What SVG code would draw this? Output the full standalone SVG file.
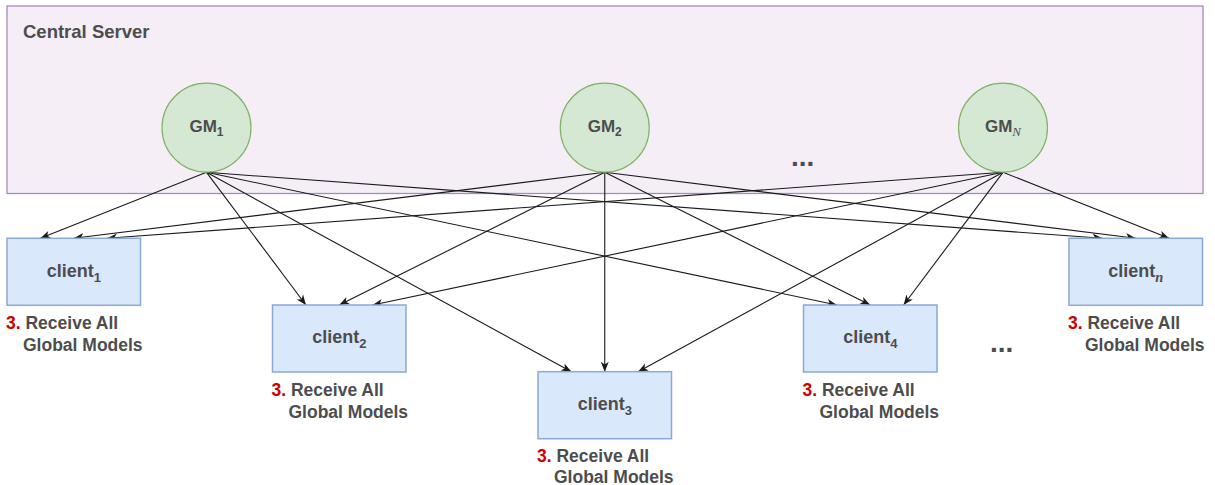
<svg xmlns="http://www.w3.org/2000/svg" width="1215" height="485" viewBox="0 0 1215 485">
  <style>
    .server { fill: #F5EEF6; stroke: #A68AB8; stroke-width: 1.3; }
    .gm { fill: #D5E8D4; stroke: #82B366; stroke-width: 1.2; }
    .client { fill: #DAE8FC; stroke: #8CA8D4; stroke-width: 1.5; }
    .edge { fill: none; stroke: #1A1A1A; stroke-width: 1.1; marker-end: url(#arrow); }
    text { font-family: "Liberation Sans", Arial, sans-serif; font-weight: bold; fill: #4D4D4D; }
    .title { font-size: 18.5px; }
    .gmtxt { font-size: 17px; }
    .ctxt { font-size: 18px; }
    .lbl { font-size: 17.5px; }
    .num { fill: #CC0000; }
    .ital { font-family: "Liberation Serif", "Times New Roman", serif; font-style: italic; font-weight: normal; }
    .ital.b { font-weight: bold; }
    .dots { font-size: 28px; }
  </style>
  <defs>
    <marker id="arrow" markerUnits="userSpaceOnUse" markerWidth="11" markerHeight="9" viewBox="0 0 11 9" refX="10.5" refY="4.5" orient="auto">
      <path d="M0.5,0.5 L10.5,4.5 L0.5,8.5 L3.2,4.5 Z" fill="#1A1A1A"/>
    </marker>
  </defs>

  <!-- server container -->
  <g id="central-server">
    <rect class="server" x="7" y="6" width="1196" height="187.5"/>
    <text class="title" x="23" y="38.3">Central Server</text>
    <text class="dots" x="791" y="166">...</text>
  </g>

  <!-- connectors: every global model goes to every client -->
  <g id="connectors">
    <!-- from GM1 -->
    <line class="edge" x1="206.5" y1="172.3" x2="40.4" y2="238.3"/>
    <line class="edge" x1="206.5" y1="172.3" x2="305.9" y2="305"/>
    <line class="edge" x1="206.5" y1="172.3" x2="571.4" y2="371.7"/>
    <line class="edge" x1="206.5" y1="172.3" x2="836.9" y2="305"/>
    <line class="edge" x1="206.5" y1="172.3" x2="1102.4" y2="238.3"/>
    <!-- from GM2 -->
    <line class="edge" x1="604.75" y1="172.3" x2="73.75" y2="238.3"/>
    <line class="edge" x1="604.75" y1="172.3" x2="339.25" y2="305"/>
    <line class="edge" x1="604.75" y1="172.3" x2="604.75" y2="371.7"/>
    <line class="edge" x1="604.75" y1="172.3" x2="870.25" y2="305"/>
    <line class="edge" x1="604.75" y1="172.3" x2="1135.75" y2="238.3"/>
    <!-- from GMN -->
    <line class="edge" x1="1003" y1="172.3" x2="107.1" y2="238.3"/>
    <line class="edge" x1="1003" y1="172.3" x2="372.6" y2="305"/>
    <line class="edge" x1="1003" y1="172.3" x2="638.1" y2="371.7"/>
    <line class="edge" x1="1003" y1="172.3" x2="903.6" y2="305"/>
    <line class="edge" x1="1003" y1="172.3" x2="1169.1" y2="238.3"/>
  </g>

  <!-- global models -->
  <g id="gm1">
    <circle class="gm" cx="206.5" cy="127.7" r="44.5"/>
    <text class="gmtxt" x="206.5" y="131.7" text-anchor="middle">GM<tspan font-size="12" dy="4.5">1</tspan></text>
  </g>
  <g id="gm2">
    <circle class="gm" cx="604.75" cy="127.7" r="44.5"/>
    <text class="gmtxt" x="604.75" y="131.7" text-anchor="middle">GM<tspan font-size="12" dy="4.5">2</tspan></text>
  </g>
  <g id="gmN">
    <circle class="gm" cx="1003" cy="127.7" r="44.5"/>
    <text class="gmtxt" x="1003" y="131.7" text-anchor="middle">GM<tspan class="ital" font-size="13" dy="4.5">N</tspan></text>
  </g>

  <!-- clients -->
  <g id="client1">
    <rect class="client" x="7" y="238.3" width="133.5" height="67"/>
    <text class="ctxt" x="73.75" y="276.7" text-anchor="middle">client<tspan font-size="13" dy="5">1</tspan></text>
    <text class="lbl" x="6" y="329"><tspan class="num">3.</tspan> Receive All</text>
    <text class="lbl" x="23" y="351">Global Models</text>
  </g>
  <g id="client2">
    <rect class="client" x="272.5" y="305" width="133.5" height="67"/>
    <text class="ctxt" x="339.25" y="343.4" text-anchor="middle">client<tspan font-size="13" dy="5">2</tspan></text>
    <text class="lbl" x="271.5" y="395.7"><tspan class="num">3.</tspan> Receive All</text>
    <text class="lbl" x="288.5" y="417.5">Global Models</text>
  </g>
  <g id="client3">
    <rect class="client" x="538" y="371.7" width="133.5" height="67"/>
    <text class="ctxt" x="604.75" y="410.1" text-anchor="middle">client<tspan font-size="13" dy="5">3</tspan></text>
    <text class="lbl" x="537" y="462"><tspan class="num">3.</tspan> Receive All</text>
    <text class="lbl" x="554" y="482.5">Global Models</text>
  </g>
  <g id="client4">
    <rect class="client" x="803.5" y="305" width="133.5" height="67"/>
    <text class="ctxt" x="870.25" y="343.4" text-anchor="middle">client<tspan font-size="13" dy="5">4</tspan></text>
    <text class="lbl" x="802.5" y="395.7"><tspan class="num">3.</tspan> Receive All</text>
    <text class="lbl" x="819.5" y="417.5">Global Models</text>
  </g>
  <g id="clientn">
    <rect class="client" x="1069" y="238.3" width="133.5" height="67"/>
    <text class="ctxt" x="1135.75" y="276.7" text-anchor="middle">client<tspan class="ital b" font-size="14.5" dy="5">n</tspan></text>
    <text class="lbl" x="1068" y="329"><tspan class="num">3.</tspan> Receive All</text>
    <text class="lbl" x="1085" y="351">Global Models</text>
  </g>

  <text class="dots" x="990" y="352">...</text>
</svg>
